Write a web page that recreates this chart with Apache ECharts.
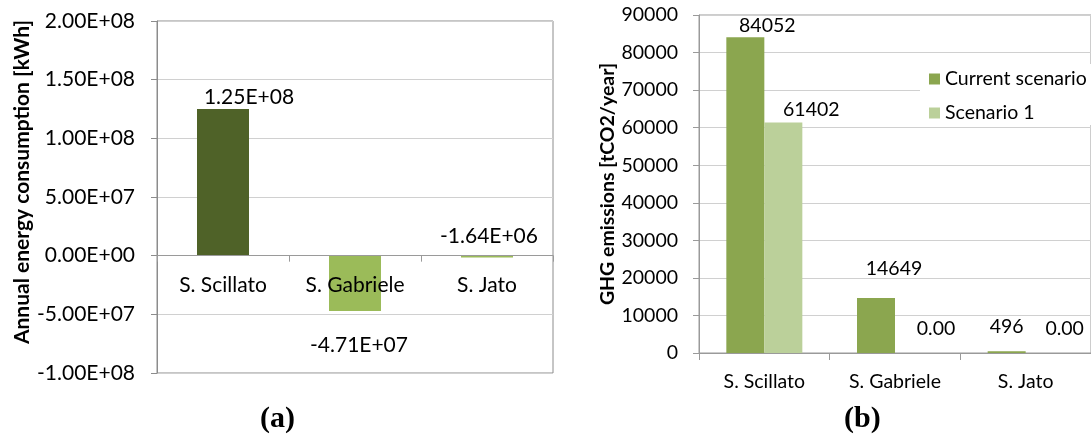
<!DOCTYPE html>
<html>
<head>
<meta charset="utf-8">
<title>Energy consumption and GHG emissions</title>
<script src="https://cdn.jsdelivr.net/npm/echarts@6/dist/echarts.min.js"></script>
<style>
  html, body { margin: 0; padding: 0; background: #fff; }
  #chart { width: 1091px; height: 434px; }
</style>
</head>
<body>
<div id="chart"></div>
<script>
// data
const sites = ['S. Scillato', 'S. Gabriele', 'S. Jato']
const energyValues = [1.25e8, -4.71e7, -1.64e6]            // kWh, panel (a)
const currentScenario = [84052, 14649, 496]                 // tCO2/year, panel (b)
const scenario1 = [61402, 0, 0]

const FONT = 'Lato'
const SIZE_A = 21
const SIZE_B = 19.5
const chart = echarts.init(document.getElementById('chart'))

// 1.25e8 -> "1.25E+08"
const expFmt = v => v.toExponential(2).toUpperCase().replace(/E([+-])(\d)$/, 'E$10$2')
const zeroFmt = v => (v === 0 ? '0.00' : String(v))

// label nudges, Excel-style hand placed labels
const offsA = [[26, 4], [4, 19], [2, -4]]
const posA = ['top', 'bottom', 'top']
const offsCur = [[22, 3], [18, -14], [0, -9]]
const offsS1 = [[28, 2], [22, -9], [20, -9]]

// panel (a) plot box; the category axis sits on the zero line
const gridA = { left: 157, top: 21, width: 396, height: 352 }
const yMinA = -1e8, yMaxA = 2e8
const zeroOffsetA = -gridA.height * (0 - yMinA) / (yMaxA - yMinA)

const textA = { color: '#000', fontFamily: FONT, fontSize: SIZE_A }
const textB = { color: '#000', fontFamily: FONT, fontSize: SIZE_B }

const option = {
  animation: false,
  backgroundColor: '#fff',
  textStyle: { fontFamily: FONT },
  grid: [
    Object.assign({ show: true, borderColor: '#8c8c8c', borderWidth: 1 }, gridA),
    { left: 699, top: 15, width: 402, height: 338, show: true, borderColor: '#9a9a9a', borderWidth: 1 }
  ],
  legend: {
    data: ['Current scenario', 'Scenario 1'],
    orient: 'vertical',
    left: 920,
    top: 64,
    padding: [5, 20, 2, 9],
    itemWidth: 11,
    itemHeight: 11,
    itemGap: 14,
    icon: 'rect',
    backgroundColor: '#fff',
    textStyle: textB
  },
  xAxis: [
    {
      type: 'category', gridIndex: 0, data: sites,
      position: 'bottom', offset: zeroOffsetA, z: 5,
      axisLine: { onZero: false, lineStyle: { color: '#9a9a9a' } },
      axisTick: { show: true, length: 6, lineStyle: { color: '#9a9a9a' } },
      axisLabel: Object.assign({ margin: 19 }, textA)
    },
    {
      type: 'category', gridIndex: 1, data: sites,
      axisLine: { lineStyle: { color: '#9a9a9a' } },
      axisTick: { show: true, length: 7, lineStyle: { color: '#9a9a9a' } },
      axisLabel: Object.assign({ margin: 19 }, textB)
    }
  ],
  yAxis: [
    {
      type: 'value', gridIndex: 0, min: yMinA, max: yMaxA, interval: 5e7,
      name: 'Annual energy consumption [kWh]',
      nameLocation: 'middle', nameGap: 122,
      nameTextStyle: { color: '#000', fontFamily: FONT, fontSize: SIZE_A, fontWeight: 'bold', padding: [0, 0, 0, 30] },
      axisLine: { show: true, lineStyle: { color: '#8c8c8c' } },
      axisTick: { show: true, length: 6, lineStyle: { color: '#8c8c8c' } },
      splitLine: { lineStyle: { color: '#d0d0d0' } },
      axisLabel: Object.assign({ margin: 22, formatter: expFmt }, textA)
    },
    {
      type: 'value', gridIndex: 1, min: 0, max: 90000, interval: 10000,
      name: 'GHG emissions [tCO2/year]',
      nameLocation: 'middle', nameGap: 75,
      nameTextStyle: { color: '#000', fontFamily: FONT, fontSize: SIZE_B, fontWeight: 'bold' },
      axisLine: { show: true, lineStyle: { color: '#9a9a9a' } },
      axisTick: { show: true, length: 6, lineStyle: { color: '#9a9a9a' } },
      splitLine: { lineStyle: { color: '#d0d0d0' } },
      axisLabel: Object.assign({ margin: 21, formatter: v => String(v) }, textB)
    }
  ],
  series: [
    {
      name: 'Energy', type: 'bar', xAxisIndex: 0, yAxisIndex: 0,
      barWidth: 52,
      data: energyValues.map((v, i) => ({
        value: v,
        itemStyle: { color: i === 0 ? '#4f6228' : '#9bbb59' },
        label: { position: posA[i], offset: offsA[i] }
      })),
      label: Object.assign({ show: true, formatter: p => expFmt(p.value) }, textA)
    },
    {
      name: 'Current scenario', type: 'bar', xAxisIndex: 1, yAxisIndex: 1,
      barWidth: 38, barGap: '0%',
      itemStyle: { color: '#8ba64f' },
      data: currentScenario.map((v, i) => ({ value: v, label: { offset: offsCur[i] } })),
      label: Object.assign({ show: true, position: 'top', formatter: p => zeroFmt(p.value) }, textB)
    },
    {
      name: 'Scenario 1', type: 'bar', xAxisIndex: 1, yAxisIndex: 1,
      barWidth: 38, barGap: '0%',
      itemStyle: { color: '#bbd09a' },
      data: scenario1.map((v, i) => ({ value: v, label: { offset: offsS1[i] } })),
      label: Object.assign({ show: true, position: 'top', formatter: p => zeroFmt(p.value) }, textB)
    }
  ],
  graphic: [
    { type: 'text', left: 260, top: 404, style: { text: '(a)', fill: '#000', font: 'bold 30px "Liberation Serif", serif' } },
    { type: 'text', left: 844, top: 404, style: { text: '(b)', fill: '#000', font: 'bold 30px "Liberation Serif", serif' } }
  ]
}

chart.setOption(option)
window.addEventListener('resize', () => chart.resize())
</script>
</body>
</html>
